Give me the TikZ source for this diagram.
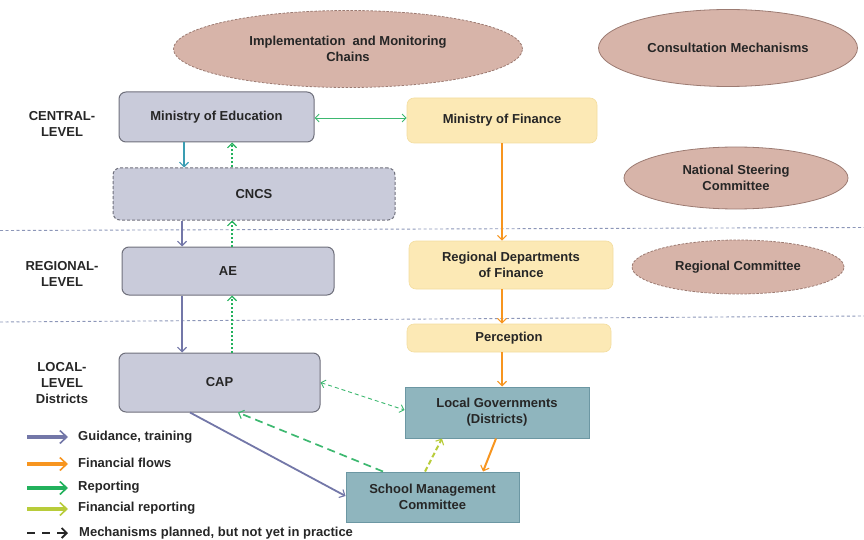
\documentclass[tikz,border=0pt]{standalone}
\usepackage{fontspec}
\setmainfont{Liberation Sans}
\usetikzlibrary{arrows.meta,shapes.geometric}
\definecolor{rose}{HTML}{D7B4A9}
\definecolor{roseline}{HTML}{9C7B72}
\definecolor{lav}{HTML}{C9CBDA}
\definecolor{lavline}{HTML}{6F707C}
\definecolor{ylw}{HTML}{FCE9B5}
\definecolor{ylwline}{HTML}{F3DDA0}
\definecolor{tealf}{HTML}{8FB5BE}
\definecolor{teall}{HTML}{6C97A3}
\definecolor{slate}{HTML}{7377A8}
\definecolor{tealarr}{HTML}{3A9DB2}
\definecolor{orng}{HTML}{F7951F}
\definecolor{grn}{HTML}{22B15C}
\definecolor{lgrn}{HTML}{3DB870}
\definecolor{ygrn}{HTML}{B8CC3A}
\definecolor{sep}{HTML}{8C96B8}
\definecolor{txt}{HTML}{262626}
\tikzset{
  every node/.style={font=\fontsize{13}{16}\selectfont\bfseries, text=txt, inner sep=0pt},
  ell/.style={ellipse, fill=rose, draw=roseline, line width=0.8pt, align=center},
  elldash/.style={ell, dashed, dash pattern=on 2.5pt off 1.5pt},
  edubox/.style={rectangle, rounded corners=7pt, fill=lav, draw=lavline, line width=1pt, align=center},
  finbox/.style={rectangle, rounded corners=7pt, fill=ylw, draw=ylwline, line width=0.6pt, align=center},
  locbox/.style={rectangle, fill=tealf, draw=teall, line width=1pt, align=center},
  tip/.style={-{Straight Barb[length=4.5pt,width=9pt,line width=1.1pt]}},
  guide/.style={tip, draw=slate, line width=1.8pt},
  fin/.style={tip, draw=orng, line width=2pt},
  rep/.style={tip, draw=grn, line width=2pt, dotted},
  levellabel/.style={align=center},
  legtxt/.style={anchor=west},
  legarr/.style={-{Straight Barb[length=7pt,width=13pt,line width=1.6pt]}, line width=3.2pt},
  sepline/.style={draw=sep, dashed, dash pattern=on 3pt off 2.5pt, line width=0.9pt}
}
\begin{document}
\begin{tikzpicture}[x=1pt,y=-1pt]
\useasboundingbox (0,0) rectangle (864,540);
% separators
\draw[sepline] (0,230.5) -- (864,227.5);
\draw[sepline] (0,322) -- (864,316);
% ellipses
\node[elldash, minimum width=349pt, minimum height=77pt] (impl) at (348,49) {Implementation\ \ and Monitoring\\Chains};
\node[ell, minimum width=259pt, minimum height=77pt] (cons) at (728,48) {Consultation Mechanisms};
\node[ell, minimum width=224pt, minimum height=62pt] (nsc) at (736,178) {National Steering\\Committee};
\node[elldash, minimum width=212pt, minimum height=54pt] (rc) at (738,267) {Regional Committee};
% level labels
\node[levellabel] (lc) at (62,124) {CENTRAL-\\LEVEL};
\node[levellabel] (lr) at (62,274) {REGIONAL-\\LEVEL};
\node[levellabel] (ll) at (62,383) {LOCAL-\\LEVEL\\Districts};
% education column
\node[edubox, minimum width=195pt, minimum height=50pt] (moe) at (216.5,117) {Ministry of Education};
\node[edubox, dashed, dash pattern=on 3pt off 2pt, minimum width=282pt, minimum height=52pt] (cncs) at (254,194) {CNCS};
\node[edubox, minimum width=212pt, minimum height=48pt] (ae) at (228,271) {AE};
\node[edubox, minimum width=201pt, minimum height=59pt] (cap) at (219.5,382.5) {CAP};
% finance column
\node[finbox, minimum width=190pt, minimum height=45pt] (mof) at (502,120.5) {Ministry of Finance};
\node[finbox, minimum width=204pt, minimum height=48pt] (rdf) at (511,265) {Regional Departments\\of Finance};
\node[finbox, minimum width=204pt, minimum height=28pt] (perc) at (509,338) {Perception};
\node[locbox, minimum width=184pt, minimum height=51pt] (lg) at (497,412.5) {Local Governments\\(Districts)};
\node[locbox, minimum width=173pt, minimum height=50pt] (smc) at (432.5,497) {School Management\\Committee};
% columns
\coordinate (ca) at (184,0);
\coordinate (cb) at (182,0);
\coordinate (cr) at (232,0);
\coordinate (cf) at (502,0);
% education arrows
\draw[tip, draw=tealarr, line width=1.3pt] (moe.south -| ca) -- (cncs.north -| ca);
\draw[rep] (cncs.north -| cr) -- (moe.south -| cr);
\draw[guide] (cncs.south -| cb) -- (ae.north -| cb);
\draw[rep] (ae.north -| cr) -- (cncs.south -| cr);
\draw[guide] (ae.south -| cb) -- (cap.north -| cb);
\draw[rep] (cap.north -| cr) -- (ae.south -| cr);
% MoE <-> MoF
\draw[{Straight Barb[length=4pt,width=8pt,line width=0.9pt]}-{Straight Barb[length=4pt,width=8pt,line width=0.9pt]}, draw=lgrn, line width=0.9pt] ([yshift=-1pt]moe.east) -- ([yshift=-1pt]moe.east -| mof.west);
% finance arrows
\draw[fin] (mof.south -| cf) -- (rdf.north -| cf);
\draw[fin] (rdf.south -| cf) -- (perc.north -| cf);
\draw[fin] (perc.south -| cf) -- (lg.north -| cf);
\draw[fin] ([xshift=-1pt]lg.south) -- ([xshift=50.5pt]smc.north);
% financial reporting
\draw[tip, draw=ygrn, line width=2pt, dashed, dash pattern=on 5pt off 3pt] ([xshift=-7.5pt]smc.north) -- ([xshift=-55pt]lg.south);
% CAP <-> LG
\draw[{Straight Barb[length=4pt,width=8pt,line width=0.9pt]}-{Straight Barb[length=4pt,width=8pt,line width=0.9pt]}, draw=lgrn, line width=0.9pt, dashed, dash pattern=on 4pt off 3pt] (cap.east) -- ([yshift=2.5pt]lg.west);
% SMC -> CAP
\draw[tip, draw=lgrn, line width=1.7pt, dashed, dash pattern=on 8pt off 5pt] ([xshift=-49.5pt]smc.north) -- ([xshift=18.5pt]cap.south);
% CAP -> SMC
\draw[guide] ([xshift=-29.5pt]cap.south) -- ([yshift=1pt]smc.west);
% legend
\coordinate (l1a) at (27,437); \coordinate (l1b) at (68,437);
\coordinate (l2a) at (27,464); \coordinate (l2b) at (68,464);
\coordinate (l3a) at (27,488); \coordinate (l3b) at (68,488);
\coordinate (l4a) at (27,509); \coordinate (l4b) at (68,509);
\coordinate (l5a) at (27,533); \coordinate (l5b) at (68,533);
\draw[legarr, draw=slate] (l1a) -- (l1b);
\draw[legarr, draw=orng] (l2a) -- (l2b);
\draw[legarr, draw=grn] (l3a) -- (l3b);
\draw[legarr, draw=ygrn] (l4a) -- (l4b);
\draw[-{Straight Barb[length=5pt,width=10pt,line width=1.8pt]}, line width=2.6pt, draw=txt, dashed, dash pattern=on 8pt off 7pt] (l5a) -- (l5b);
\node[legtxt] (t1) at (78,437) {Guidance, training};
\node[legtxt] (t2) at (78,463) {Financial flows};
\node[legtxt] (t3) at (78,487) {Reporting};
\node[legtxt] (t4) at (78,508) {Financial reporting};
\node[legtxt] (t5) at (79,533) {Mechanisms planned, but not yet in practice};
\end{tikzpicture}
\end{document}
